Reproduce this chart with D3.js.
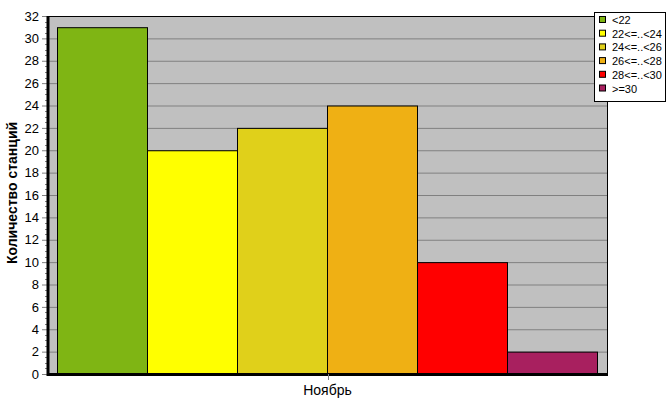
<!DOCTYPE html>
<html><head><meta charset="utf-8">
<script src="https://cdn.jsdelivr.net/npm/d3@7"></script>
<style>body{margin:0;background:#fff}svg{display:block;font-family:"Liberation Sans",Arial,sans-serif}</style>
</head><body><svg id="c" width="667" height="415"></svg>
<script>
const seriesNames = ["<22", "22<=..<24", "24<=..<26", "26<=..<28", "28<=..<30", ">=30"];
const seriesValues = [31, 20, 22, 24, 10, 2];
const seriesColors = ["#7FB514", "#FFFF00", "#E0D01A", "#EFB014", "#FF0000", "#A8205F"];
const categories = ["Ноябрь"];
const yTicks = d3.range(0, 33, 2);
const yTitle = "Количество станций";

const svg = d3.select("#c");
const L = 48, R = 607, T = 16, B = 374;
const y = d3.scaleLinear().domain([0, 32]).range([B, T]);
const xCat = d3.scaleBand().domain(categories).range([L, R]).paddingInner(0).paddingOuter(0);
const xs = d3.scaleBand().domain(seriesNames).range([L + 9, R - 10]).padding(0);

svg.append("rect").attr("x", L).attr("y", T).attr("width", R - L).attr("height", B - T).attr("fill", "#C0C0C0");
svg.append("g").selectAll("line").data(yTicks.filter(d => d > 0)).join("line")
  .attr("x1", L).attr("x2", R).attr("y1", d => y(d) + 0.5).attr("y2", d => y(d) + 0.5)
  .attr("stroke", "#808080").attr("stroke-width", 1);
svg.append("rect").attr("x", L + 0.5).attr("y", T + 0.5).attr("width", R - L).attr("height", B - T)
  .attr("fill", "none").attr("stroke", "#000").attr("stroke-width", 1);

svg.append("g").selectAll("rect").data(seriesNames).join("rect")
  .attr("x", d => xs(d) + 0.5).attr("width", xs.bandwidth())
  .attr("y", (d, i) => y(seriesValues[i]) + 0.5).attr("height", (d, i) => B - y(seriesValues[i]))
  .attr("fill", (d, i) => seriesColors[i]).attr("stroke", "#000").attr("stroke-width", 1);

const yAxis = d3.axisLeft(y).tickValues(yTicks).tickSize(6).tickPadding(3);
const ga = svg.append("g").attr("transform", `translate(${L},0)`).call(yAxis);
ga.select(".domain").remove();
ga.selectAll(".tick line").attr("stroke", "#808080");
ga.selectAll(".tick text").attr("font-size", 13).attr("font-family", "Liberation Sans, Arial").attr("fill", "#000");
svg.append("g").selectAll("line").data(d3.range(0, 32.01, 0.5).filter(v => v % 2 !== 0)).join("line")
  .attr("x1", L - 3).attr("x2", L).attr("y1", d => Math.round(y(d)) + 0.5).attr("y2", d => Math.round(y(d)) + 0.5)
  .attr("stroke", "#808080");
svg.append("line").attr("x1", L).attr("x2", L).attr("y1", T).attr("y2", B + 2).attr("stroke", "#000").attr("stroke-width", 3);

svg.append("line").attr("x1", L - 1).attr("x2", R + 1).attr("y1", B + 0.5).attr("y2", B + 0.5).attr("stroke", "#000").attr("stroke-width", 3);
const xc = xCat(categories[0]) + xCat.bandwidth() / 2;
svg.append("line").attr("x1", Math.round(xc) + 0.5).attr("x2", Math.round(xc) + 0.5).attr("y1", B).attr("y2", B + 6).attr("stroke", "#808080");
svg.append("text").attr("x", xc).attr("y", 395).attr("text-anchor", "middle").attr("font-size", 14).text(categories[0]);

svg.append("text").attr("transform", `translate(17,${(T + B) / 2 - 2}) rotate(-90)`).attr("text-anchor", "middle")
  .attr("font-size", 14).attr("font-weight", "bold").text(yTitle);

const lx = 594, ly = 12, lw = 71, lh = 89;
svg.append("rect").attr("x", lx + 0.5).attr("y", ly + 0.5).attr("width", lw).attr("height", lh).attr("fill", "#fff").attr("stroke", "#000");
const lg = svg.append("g").selectAll("g").data(seriesNames).join("g")
  .attr("transform", (d, i) => `translate(${lx + 5},${ly + 8 + i * 13.7})`);
lg.append("rect").attr("x", 0.5).attr("y", -3.5).attr("width", 6).attr("height", 6)
  .attr("fill", (d, i) => seriesColors[i]).attr("stroke", "#000");
lg.append("text").attr("x", 13).attr("y", 4).attr("font-size", 11).text(d => d);
</script></body></html>
